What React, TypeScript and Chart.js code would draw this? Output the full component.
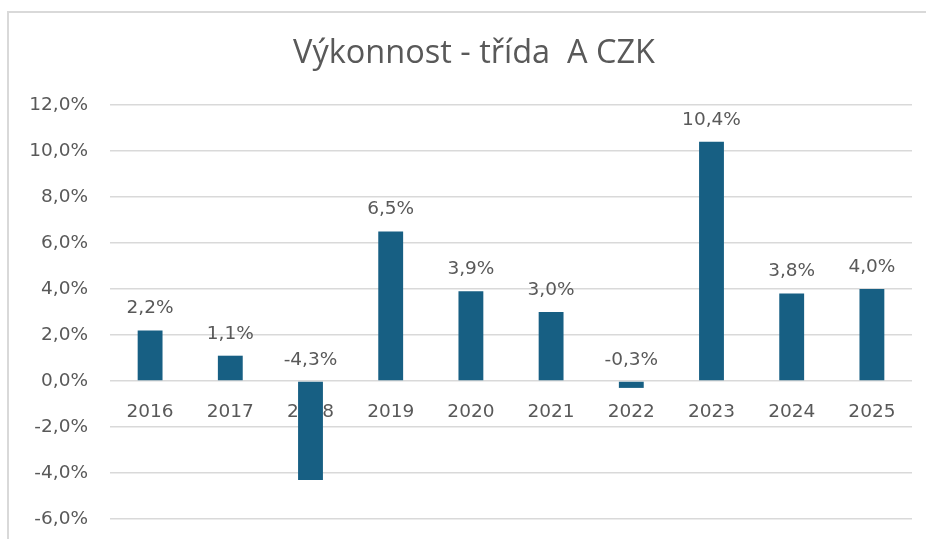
import React, { useEffect, useRef } from "react";
import { Chart, registerables } from "chart.js";

Chart.register(...registerables);

const TITLE = "Výkonnost - třída  A CZK";
const YEARS = ["2016", "2017", "2018", "2019", "2020", "2021", "2022", "2023", "2024", "2025"];
const RETURNS = [2.2, 1.1, -4.3, 6.5, 3.9, 3.0, -0.3, 10.4, 3.8, 4.0];
const Y_MIN = -6;
const Y_MAX = 12;
const Y_STEP = 2;

const TEXT = "#595959";
const BAR = "#175f83";
const GRID = "#d9d9d9";
const FONT = "'DejaVu Sans', sans-serif";
const FONT_SIZE = 18.5;

const fmt = (v: number) => v.toFixed(1).replace(".", ",") + "%";

const labelPlugin = {
  id: "barLabels",
  afterLayout(chart: any) {
    // let the y tick labels use the space left of the axis box
    const y = chart.scales.y;
    if (y) y.left = 0;
  },
  afterDatasetsDraw(chart: any) {
    const ctx = chart.ctx;
    const meta = chart.getDatasetMeta(0);
    ctx.save();
    ctx.font = `${FONT_SIZE}px ${FONT}`;
    ctx.fillStyle = TEXT;
    ctx.textAlign = "center";
    ctx.textBaseline = "middle";
    meta.data.forEach((el: any, i: number) => {
      const top = Math.min(el.y, el.base);
      ctx.fillText(fmt(RETURNS[i]), el.x, top - 22);
    });
    ctx.restore();
  },
};

export default function App() {
  const ref = useRef<HTMLCanvasElement>(null);
  useEffect(() => {
    if (!ref.current) return;
    const chart = new Chart(ref.current, {
      type: "bar",
      data: {
        labels: YEARS,
        datasets: [
          {
            data: RETURNS,
            backgroundColor: BAR,
            borderWidth: 0,
            barPercentage: 0.31,
            categoryPercentage: 1,
          },
        ],
      },
      options: {
        animation: false,
        responsive: false,
        maintainAspectRatio: false,
        layout: { padding: { top: 0, right: 14, bottom: 20, left: 36 } },
        plugins: {
          legend: { display: false },
          tooltip: { enabled: false },
          title: {
            display: true,
            text: TITLE,
            color: TEXT,
            font: { family: "'Open Sans'", size: 32.5, weight: "400" },
            padding: { top: 34, bottom: 32 },
          },
        },
        scales: {
          x: {
            position: { y: 0 } as any,
            z: 1,
            grid: { display: false, drawTicks: false },
            border: { display: false },
            ticks: { color: TEXT, font: { family: FONT, size: FONT_SIZE }, padding: 20 },
            afterFit: (s: any) => {
              s.height = 0;
            },
          },
          y: {
            min: Y_MIN,
            max: Y_MAX,
            grid: { color: GRID, lineWidth: 1.5, drawTicks: false },
            border: { display: false },
            ticks: {
              stepSize: Y_STEP,
              color: TEXT,
              font: { family: FONT, size: FONT_SIZE },
              padding: 22,
              callback: (v: any) => fmt(Number(v)),
            },
            afterFit: (s: any) => {
              s.width = 74;
              s.paddingTop = 0;
              s.paddingBottom = 0;
            },
          },
        },
      },
      plugins: [labelPlugin],
    });
    return () => chart.destroy();
  }, []);

  return (
    <div style={{ position: "absolute", left: 0, top: 0, width: 926, height: 539, overflow: "hidden", background: "#fff" }}>
      <div
        style={{
          position: "absolute",
          left: 7,
          top: 11,
          width: 960,
          height: 600,
          border: "2px solid #d9d9d9",
        }}
      />
      <canvas ref={ref} width={926} height={539} style={{ position: "absolute", left: 0, top: 0 }} />
    </div>
  );
}
